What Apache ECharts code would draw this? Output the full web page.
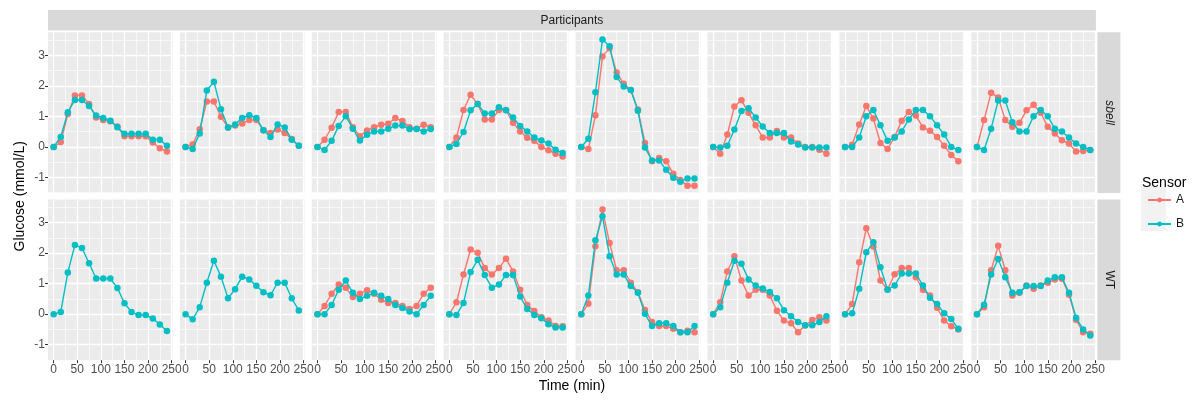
<!DOCTYPE html>
<html><head><meta charset="utf-8">
<script src="https://cdn.jsdelivr.net/npm/echarts@6/dist/echarts.min.js"></script>
<style>html,body{margin:0;padding:0;background:#fff}#c{width:1200px;height:401px}</style>
</head><body><div id="c"></div>
<script>
// ---- data ----
const times = [0,15,30,45,60,75,90,105,120,135,150,165,180,195,210,225,240];
const rowLabels = ['sbell','WT'];
const sensors = ['A','B'];
const xTicks = [0,50,100,150,200,250];
const xMinorTicks = [25,75,125,175,225];
const yTicks = [-1,0,1,2,3];
const yMinorTicks = [-1.5,-0.5,0.5,1.5,2.5,3.5];

const sbellA = [
  [0,0.16,1.08,1.69,1.69,1.41,0.97,0.88,0.84,0.67,0.35,0.35,0.35,0.35,0.15,-0.04,-0.15],
  [0,0.08,0.58,1.49,1.49,0.99,0.64,0.70,0.77,0.88,0.88,0.55,0.46,0.57,0.46,0.26,0.04],
  [0,0.24,0.63,1.15,1.15,0.65,0.35,0.54,0.65,0.73,0.76,0.95,0.85,0.65,0.60,0.73,0.65],
  [0,0.31,1.21,1.71,1.41,0.90,0.90,1.21,1.21,0.79,0.51,0.30,0.20,0.00,-0.11,-0.22,-0.31],
  [0,-0.07,1.04,2.97,3.24,2.44,2.07,1.87,1.23,0.13,-0.47,-0.36,-0.47,-0.88,-1.08,-1.27,-1.27],
  [0,-0.22,0.41,1.33,1.53,1.12,0.71,0.31,0.31,0.52,0.31,0.31,0.11,0.00,0.00,-0.09,-0.22],
  [0,0.07,0.74,1.34,0.93,0.13,-0.07,0.33,0.86,1.15,1.03,0.64,0.53,0.33,0.04,-0.26,-0.47],
  [0,0.88,1.78,1.62,0.88,0.66,0.79,1.20,1.38,1.12,0.66,0.44,0.22,0.11,-0.15,-0.13,-0.10]
];
const sbellB = [
  [0,0.33,1.14,1.54,1.54,1.34,1.03,0.95,0.86,0.65,0.43,0.43,0.43,0.43,0.24,0.24,0.04],
  [0,-0.07,0.44,1.85,2.14,1.24,0.64,0.74,0.95,1.04,0.95,0.55,0.33,0.74,0.64,0.24,0.04],
  [0,-0.10,0.20,0.69,1.01,0.60,0.21,0.40,0.51,0.51,0.60,0.70,0.70,0.59,0.59,0.51,0.59],
  [0,0.10,0.49,1.20,1.41,1.10,1.10,1.30,1.20,0.97,0.69,0.51,0.31,0.21,0.11,-0.09,-0.20],
  [0,0.27,1.79,3.52,3.30,2.29,1.98,1.87,1.19,-0.02,-0.44,-0.44,-0.75,-1.01,-1.14,-1.03,-1.03],
  [0,-0.02,0.04,0.57,1.18,1.27,0.97,0.67,0.46,0.46,0.46,0.18,0.08,-0.02,-0.02,-0.02,-0.02],
  [0,0.00,0.31,1.01,1.21,0.71,0.20,0.31,0.51,0.90,1.21,1.21,1.01,0.71,0.41,0.00,-0.10],
  [0,-0.10,0.60,1.52,1.52,0.81,0.51,0.51,1.01,1.21,1.01,0.60,0.51,0.31,0.11,0.00,-0.10]
];
const wtA = [
  null,
  null,
  [0,0.27,0.67,0.97,0.87,0.56,0.67,0.78,0.67,0.47,0.37,0.37,0.27,0.17,0.27,0.67,0.87],
  [0,0.39,1.30,2.12,2.01,1.51,1.30,1.51,1.82,1.40,0.80,0.30,0.10,-0.10,-0.21,-0.39,-0.40],
  [0,0.34,2.23,3.43,2.33,1.44,1.44,1.03,0.72,0.14,-0.26,-0.39,-0.39,-0.48,-0.59,-0.54,-0.59],
  [0,0.39,1.40,1.90,1.10,0.61,0.80,0.80,0.61,0.11,-0.21,-0.30,-0.59,-0.37,-0.19,-0.10,-0.21],
  [0,0.33,1.70,2.82,2.22,1.10,0.81,1.31,1.51,1.51,1.21,0.80,0.61,0.21,-0.21,-0.40,-0.50],
  [0,0.23,1.44,2.24,1.44,0.61,0.70,0.94,0.83,0.94,1.03,1.14,1.16,0.64,-0.18,-0.59,-0.64]
];
const wtB = [
  [0,0.07,1.37,2.27,2.17,1.67,1.17,1.17,1.17,0.86,0.36,0.07,-0.03,-0.03,-0.14,-0.34,-0.55],
  [0,-0.17,0.23,1.03,1.75,1.23,0.52,0.82,1.23,1.14,0.93,0.72,0.62,1.03,1.03,0.52,0.12],
  [0,0.00,0.30,0.80,1.10,0.70,0.50,0.60,0.70,0.60,0.50,0.30,0.20,0.09,0.00,0.30,0.60],
  [0,-0.03,0.37,1.38,1.78,1.28,0.87,0.97,1.28,1.28,0.58,0.17,-0.03,-0.13,-0.33,-0.44,-0.44],
  [0,0.61,2.42,3.21,1.90,1.30,1.30,0.92,0.70,0.01,-0.39,-0.30,-0.30,-0.39,-0.59,-0.59,-0.39],
  [0,0.23,1.03,1.75,1.65,1.14,0.94,0.84,0.73,0.52,0.13,-0.07,-0.26,-0.36,-0.36,-0.26,-0.07],
  [0,0.03,0.83,2.03,2.36,1.54,0.80,0.94,1.33,1.33,1.33,0.94,0.54,0.33,0.03,-0.16,-0.48],
  [0,0.31,1.30,1.81,1.21,0.70,0.72,0.92,0.92,0.92,1.10,1.21,1.21,0.70,-0.12,-0.50,-0.70]
];

// ---- layout / styles ----
const colors = {A:'#F8766D', B:'#00BFC4'};
const FONT = '"Liberation Sans", Arial, sans-serif';
const nCols = 8;
const colStep = 131.9, left0 = 48, panelW = 124.6, panelH = 160.7;
const rowTop = [32.3, 199.5];

// shared y scale (ggplot style 5% expansion)
const allVals = [].concat(...sbellA, ...sbellB, ...wtA.filter(Boolean), ...wtB);
const dMin = Math.min(...allVals), dMax = Math.max(...allVals);
const yMin = dMin - 0.05*(dMax-dMin), yMax = dMax + 0.05*(dMax-dMin);
const xMin = times[0] - 0.05*(times[times.length-1]-times[0]);
const xMax = times[times.length-1] + 0.05*(times[times.length-1]-times[0]);

const grids = [], xAxes = [], yAxes = [], series = [];
const rowsData = [[sbellA, sbellB],[wtA, wtB]];
let g = 0;
for (let r = 0; r < 2; r++) {
  for (let c = 0; c < nCols; c++) {
    grids.push({left: left0 + c*colStep, top: rowTop[r], width: panelW, height: panelH,
      show: true, backgroundColor: '#EBEBEB', borderWidth: 0});
    const bottomRow = r === 1, firstCol = c === 0;
    xAxes.push({type:'value', gridIndex:g, min:xMin, max:xMax, position:'bottom',
      axisLine:{show:false, onZero:false},
      axisTick:{show:bottomRow, length:3, customValues:xTicks, lineStyle:{color:'#333333', width:1}},
      axisLabel:{show:bottomRow, customValues:xTicks, color:'#4D4D4D', fontSize:12, margin:3, fontFamily:FONT},
      splitLine:{show:true, lineStyle:{color:'#FFFFFF', width:1.3}}});
    xAxes.push({type:'value', gridIndex:g, min:xMin, max:xMax, position:'top',
      axisLine:{show:false, onZero:false}, axisTick:{show:false, customValues:xMinorTicks},
      axisLabel:{show:false}, splitLine:{show:true, lineStyle:{color:'#FFFFFF', width:0.6}}});
    yAxes.push({type:'value', gridIndex:g, min:yMin, max:yMax, position:'left',
      axisLine:{show:false, onZero:false},
      axisTick:{show:firstCol, length:3, customValues:yTicks, lineStyle:{color:'#333333', width:1}},
      axisLabel:{show:firstCol, customValues:yTicks, color:'#4D4D4D', fontSize:12, margin:3, fontFamily:FONT},
      splitLine:{show:true, lineStyle:{color:'#FFFFFF', width:1.3}}});
    yAxes.push({type:'value', gridIndex:g, min:yMin, max:yMax, position:'right',
      axisLine:{show:false, onZero:false}, axisTick:{show:false, customValues:yMinorTicks},
      axisLabel:{show:false}, splitLine:{show:true, lineStyle:{color:'#FFFFFF', width:0.6}}});
    sensors.forEach((s, si) => {
      const arr = rowsData[r][si][c];
      if (!arr) return;
      series.push({type:'line', name:s, xAxisIndex:2*g, yAxisIndex:2*g,
        data: times.map((t,k)=>[t, arr[k]]),
        symbol:'circle', symbolSize:6.5, showSymbol:true,
        lineStyle:{color:colors[s], width:1.4}, itemStyle:{color:colors[s]},
        emphasis:{disabled:true}, animation:false, z: 3 + si});
    });
    g++;
  }
}

const stripRight = left0 + (nCols-1)*colStep + panelW;
const graphic = [
  {type:'rect', shape:{x:left0, y:10, width:stripRight-left0, height:20.5}, style:{fill:'#D9D9D9'}},
  {type:'text', x:(left0+stripRight)/2, y:20.5, style:{text:'Participants', font:'12px '+FONT, fill:'#1A1A1A', align:'center', verticalAlign:'middle'}},
];
rowLabels.forEach((lab, r) => {
  graphic.push({type:'rect', shape:{x:stripRight+1.5, y:rowTop[r], width:23, height:panelH}, style:{fill:'#D9D9D9'}});
  graphic.push({type:'text', x:stripRight+13, y:rowTop[r]+panelH/2, rotation:-Math.PI/2,
    style:{text:lab, font:(r===0?'italic ':'')+'12px '+FONT, fill:'#1A1A1A', align:'center', verticalAlign:'middle'}});
});
graphic.push({type:'text', x:20, y:(rowTop[0]+rowTop[1]+panelH)/2, rotation:Math.PI/2,
  style:{text:'Glucose (mmol/L)', font:'14px '+FONT, fill:'#000', align:'center', verticalAlign:'middle'}});
graphic.push({type:'text', x:(left0+stripRight)/2, y:386,
  style:{text:'Time (min)', font:'14px '+FONT, fill:'#000', align:'center', verticalAlign:'middle'}});
// legend
graphic.push({type:'text', x:1142, y:183, style:{text:'Sensor', font:'14px '+FONT, fill:'#000', align:'left', verticalAlign:'middle'}});
graphic.push({type:'rect', shape:{x:1141, y:187, width:25, height:44}, style:{fill:'#F2F2F2'}, z:-1});

const chart = echarts.init(document.getElementById('c'), null, {renderer:'canvas'});
chart.setOption({
  animation:false,
  backgroundColor:'#FFFFFF',
  grid: grids, xAxis: xAxes, yAxis: yAxes, series: series,
  legend:{data:sensors, orient:'vertical', left:1142, top:189, itemWidth:23, itemHeight:6, itemGap:12,
    selectedMode:false, textStyle:{fontSize:12, color:'#1A1A1A', fontFamily:FONT}},
  graphic: graphic
});
</script></body></html>
